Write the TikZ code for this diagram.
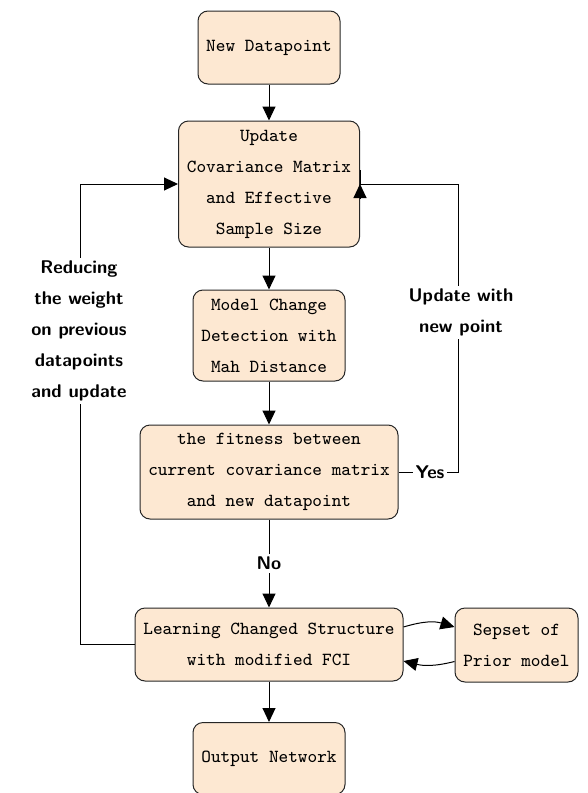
\documentclass[tikz,border=0pt]{standalone}
\usetikzlibrary{arrows.meta,calc}
\definecolor{boxfill}{RGB}{253,232,210}
\begin{document}
\begin{tikzpicture}[x=0.5pt,y=-0.5pt,
  stepbox/.style={draw=black!85,line width=0.5pt,fill=boxfill,rounded corners=5pt,
    align=center,inner sep=0pt,font=\ttfamily\fontsize{9.2}{15.5}\selectfont},
  lbl/.style={fill=white,align=center,inner sep=1.5pt,
    font=\sffamily\bfseries\fontsize{9.2}{15.5}\selectfont},
  arr/.style={line width=0.5pt,-{Triangle[length=7pt,width=6.5pt]}},
  ln/.style={line width=0.5pt}]
\useasboundingbox (0,0) rectangle (588,793);

% process boxes
\node[stepbox,minimum width=71pt,minimum height=36.5pt] (new) at (269,47.5) {New Datapoint};
\node[stepbox,minimum width=90.5pt,minimum height=63pt] (update) at (269,184)
  {Update\\Covariance Matrix\\and Effective\\Sample Size};
\node[stepbox,minimum width=76pt,minimum height=45.5pt] (model) at (269,335.5)
  {Model Change\\Detection with\\Mah Distance};
\node[stepbox,minimum width=129pt,minimum height=47pt] (fit) at (269,472)
  {the fitness between\\current covariance matrix\\and new datapoint};
\node[stepbox,minimum width=134pt,minimum height=36.5pt] (learn) at (269,644.5)
  {Learning Changed Structure\\with modified FCI};
\node[stepbox,minimum width=61.5pt,minimum height=37pt] (sepset) at (516.5,645)
  {Sepset of\\Prior model};
\node[stepbox,minimum width=76pt,minimum height=36pt] (out) at (269,758.5) {Output Network};

% main flow
\draw[arr] (new) -- (update);
\draw[arr] (update) -- (model);
\draw[arr] (model) -- (fit);
\draw[arr] (fit) -- node[lbl,pos=0.5] (no) {No} (learn);
\draw[arr] (learn) -- (out);

% exchange with the prior model
\draw[arr] ($(learn.east)+(0,-17.5)$) .. controls +(20,-6) and +(-20,-6) .. ($(sepset.west)+(0,-18)$);
\draw[arr] ($(sepset.west)+(0,16.5)$) .. controls +(-20,5) and +(20,5) .. ($(learn.east)+(0,16.5)$);

% feedback: reduce weights
\coordinate (lb) at (80,644.5);
\draw[arr] (learn.west) -- (lb) |- (update.west);
\node[lbl] (reduce) at (79,331) {Reducing\\the weight\\on previous\\datapoints\\and update};

% feedback: update with new point
\coordinate (rb) at (458,472);
\coordinate (rt) at (458,184);
\coordinate (ut) at (360,184);
\coordinate (us) at (360,170);
\draw[ln] (fit.east) -- (rb) -- (rt) -- (ut) -- (us);
\draw[arr] ($(ut)+(0,15)$) -- (ut);
\node[lbl] (yes) at (430,472) {Yes};
\node[lbl] (upd) at (461,312.5) {Update with\\new point};
\end{tikzpicture}
\end{document}
